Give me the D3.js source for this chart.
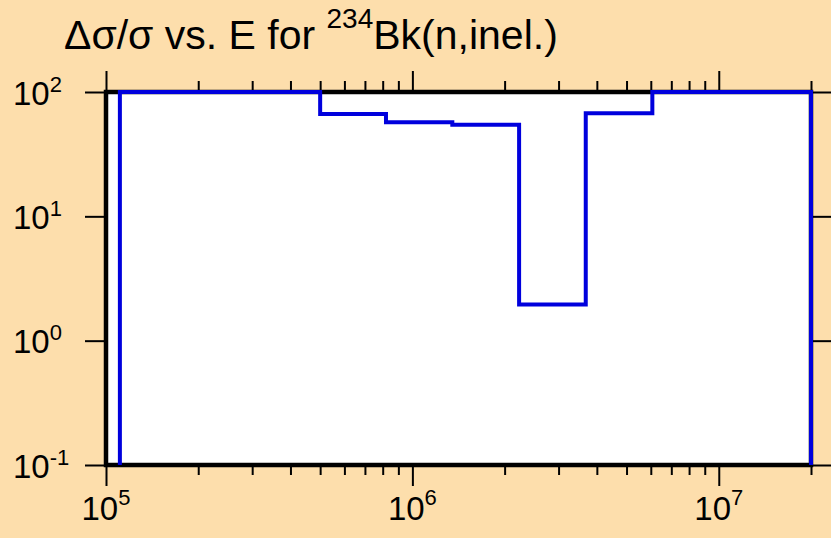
<!DOCTYPE html>
<html>
<head>
<meta charset="utf-8">
<script src="https://cdn.jsdelivr.net/npm/d3@7"></script>
<style>
    html, body { margin: 0; padding: 0; background: #fddeac; }
    svg { display: block; font-family: "Liberation Sans", Arial, sans-serif; }
    .frame { stroke: #000; stroke-width: 4.5; fill: none; }
    .axis path { display: none; }
    .axis line { stroke: #000; stroke-width: 2; }
    .tick-label { font-size: 33px; fill: #000; }
</style>
</head>
<body>
<svg id="chart" width="831" height="538"></svg>
<script>
// Bin edges (eV) and relative uncertainty (%) per bin
const energyEdges = [1.11e5, 5.0e5, 8.2e5, 1.35e6, 2.23e6, 3.68e6, 6.07e6, 2.0e7];
const relUncert = [100, 66.6, 57, 54.5, 1.95, 67.6, 100];

const xDomain = [1e5, 2e7];
const yDomain = [0.1, 100];
const xMajorTicks = [1e5, 1e6, 1e7];
const xTickExps = ['5', '6', '7'];
const yMajorTicks = [100, 10, 1, 0.1];
const yTickExps = ['2', '1', '0', '-1'];

const margin = { top: 92, right: 20, bottom: 73, left: 106 };
const svg = d3.select('#chart');
const width = +svg.attr('width') - margin.left - margin.right;
const height = +svg.attr('height') - margin.top - margin.bottom;

svg.append('rect')
    .attr('width', 831).attr('height', 538)
    .attr('fill', '#fddeac');

const chart = svg.append('g')
    .attr('transform', `translate(${margin.left},${margin.top})`);

const x = d3.scaleLog().domain(xDomain).range([0, width]);
const y = d3.scaleLog().domain(yDomain).range([height, 0]);

// minor ticks 2..9 per decade inside the domain
const xMinor = [];
for (let e = 5; e <= 7; e++) {
    for (let m = 2; m <= 9; m++) {
        const v = m * Math.pow(10, e);
        if (v <= xDomain[1]) xMinor.push(v);
    }
}

chart.append('rect')
    .attr('width', width).attr('height', height)
    .attr('fill', '#fff');

// ticks (outward on every side)
chart.append('g').attr('class', 'axis')
    .attr('transform', `translate(0,${height})`)
    .call(d3.axisBottom(x).tickValues(xMajorTicks).tickSize(21).tickFormat(''));
chart.append('g').attr('class', 'axis')
    .attr('transform', `translate(0,${height})`)
    .call(d3.axisBottom(x).tickValues(xMinor).tickSize(10).tickFormat(''));
chart.append('g').attr('class', 'axis')
    .call(d3.axisTop(x).tickValues(xMajorTicks).tickSize(21).tickFormat(''));
chart.append('g').attr('class', 'axis')
    .call(d3.axisTop(x).tickValues(xMinor).tickSize(11).tickFormat(''));
chart.append('g').attr('class', 'axis')
    .call(d3.axisLeft(y).tickValues(yMajorTicks).tickSize(21).tickFormat(''));
chart.append('g').attr('class', 'axis')
    .attr('transform', `translate(${width},0)`)
    .call(d3.axisRight(y).tickValues(yMajorTicks).tickSize(21).tickFormat(''));

chart.append('rect')
    .attr('class', 'frame')
    .attr('width', width).attr('height', height);

// step line: rises from the bottom at the first edge, drops back at the last
const pts = [[energyEdges[0], yDomain[0]]];
relUncert.forEach((v, i) => {
    pts.push([energyEdges[i], v]);
    pts.push([energyEdges[i + 1], v]);
});
pts.push([energyEdges[energyEdges.length - 1], yDomain[0]]);

chart.append('path')
    .datum(pts)
    .attr('fill', 'none')
    .attr('stroke', '#0000dd')
    .attr('stroke-width', 4)
    .attr('stroke-linejoin', 'miter')
    .attr('d', d3.line().x(d => x(d[0])).y(d => y(d[1])));

// tick labels with superscript exponents
chart.selectAll('.xlab')
    .data(xMajorTicks)
    .join('text')
        .attr('class', 'tick-label')
        .attr('text-anchor', 'middle')
        .attr('x', d => x(d))
        .attr('y', height + 55)
        .each(function(d, i) {
            const t = d3.select(this);
            t.append('tspan').text('10');
            t.append('tspan').attr('dy', -15).attr('font-size', 22).text(xTickExps[i]);
        });

chart.selectAll('.ylab')
    .data(yMajorTicks)
    .join('text')
        .attr('class', 'tick-label')
        .attr('x', 13 - margin.left)
        .attr('y', d => y(d) + 12.5)
        .each(function(d, i) {
            const t = d3.select(this);
            t.append('tspan').text('10');
            t.append('tspan').attr('dy', -13).attr('font-size', 22).text(yTickExps[i]);
        });

// title
const title = svg.append('text')
    .attr('x', 64).attr('y', 49)
    .attr('font-size', 41);
title.append('tspan').text('\u0394\u03c3/\u03c3 vs. E for ');
title.append('tspan').attr('dy', -21).attr('font-size', 28).text('234');
title.append('tspan').attr('dy', 21).text('Bk(n,inel.)');
</script>
</body>
</html>
